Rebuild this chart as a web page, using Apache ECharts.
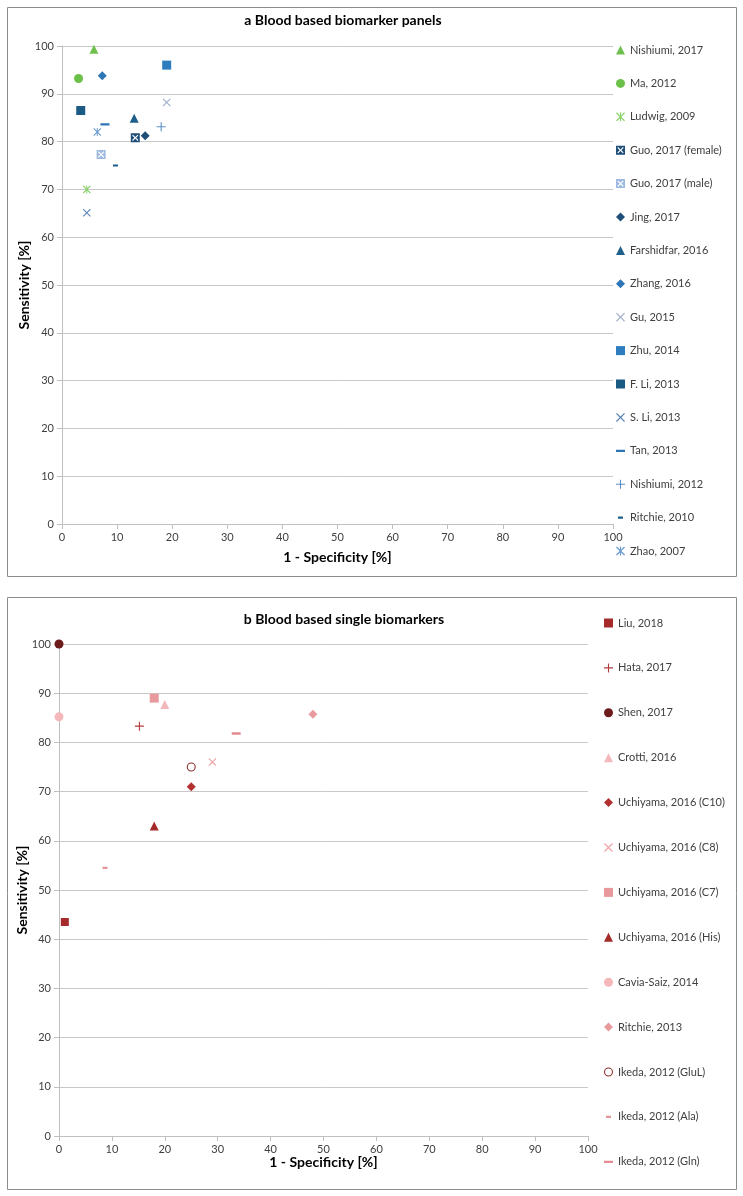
<!DOCTYPE html>
<html>
<head>
<meta charset="utf-8">
<script src="https://cdn.jsdelivr.net/npm/echarts@6/dist/echarts.min.js"></script>
<style>
html,body{margin:0;padding:0;background:#fff;}
#chart{width:743px;height:1196px;}
</style>
</head>
<body>
<div id="chart"></div>
<script>
// ---------- DATA ----------
const panelNames = ["Nishiumi, 2017","Ma, 2012","Ludwig, 2009","Guo, 2017 (female)","Guo, 2017 (male)","Jing, 2017","Farshidfar, 2016","Zhang, 2016","Gu, 2015","Zhu, 2014","F. Li, 2013","S. Li, 2013","Tan, 2013","Nishiumi, 2012","Ritchie, 2010","Zhao, 2007"];
const panelFpr  = [5.8, 3.0, 4.5, 13.3, 7.1, 15.1, 13.1, 7.3, 19.0, 19.0, 3.4, 4.5, 7.8, 18.0, 9.7, 6.4];
const panelSens = [99.3, 93.2, 70.0, 80.8, 77.3, 81.2, 84.9, 93.8, 88.2, 96.0, 86.5, 65.1, 83.6, 83.1, 75.0, 82.0];

const singleNames = ["Liu, 2018","Hata, 2017","Shen, 2017","Crotti, 2016","Uchiyama, 2016 (C10)","Uchiyama, 2016 (C8)","Uchiyama, 2016 (C7)","Uchiyama, 2016 (His)","Cavia-Saiz, 2014","Ritchie, 2013","Ikeda, 2012 (GluL)","Ikeda, 2012 (Ala)","Ikeda, 2012 (Gln)"];
const singleFpr  = [1.1, 15.2, 0, 20.0, 25.0, 29.0, 18.0, 18.0, 0, 48.0, 25.0, 8.7, 33.5];
const singleSens = [43.5, 83.3, 100, 87.7, 71.0, 76.0, 89.0, 63.0, 85.2, 85.7, 75.0, 54.5, 81.8];

const axisTicks = [0,10,20,30,40,50,60,70,80,90,100];
const titleA = "a Blood based biomarker panels";
const titleB = "b Blood based single biomarkers";
const xName = "1 - Specificity [%]";
const yName = "Sensitivity [%]";

// ---------- SYMBOLS / STYLES ----------
const XP = 'M0,1L1,0L5,4L9,0L10,1L6,5L10,9L9,10L5,6L1,10L0,9L4,5Z';
const SYM = {
  x: 'path://' + XP,
  plus: 'path://M4.4,0H5.6V4.4H10V5.6H5.6V10H4.4V5.6H0V4.4H4.4Z',
  star: 'path://' + XP + ' M4.4,0H5.6V10H4.4Z',
  dash: 'path://M0,3.7H10V6.3H0Z M5,0L5,0Z M5,10L5,10Z',
  sdash: 'path://M2.2,3.8H7.8V6.2H2.2Z M0,0L0,0Z M10,10L10,10Z',
  boxX: 'path://M0,0H10V10H0Z M1.5,2.4L4.1,5L1.5,7.6L2.4,8.5L5,5.9L7.6,8.5L8.5,7.6L5.9,5L8.5,2.4L7.6,1.5L5,4.1L2.4,1.5Z',
  ring: 'path://M5,0A5,5,0,1,1,5,10A5,5,0,1,1,5,0Z M5,1.2A3.8,3.8,0,1,0,5,8.8A3.8,3.8,0,1,0,5,1.2Z'
};
const panelStyle = [
  ['triangle','#70C050',9],['circle','#6CC04A',9],[SYM.star,'#8AD36A',8],[SYM.boxX,'#1F4E79',9],
  [SYM.boxX,'#9DB9DF',9],['diamond','#1F4E79',9],['triangle','#1F5F8B',9],['diamond','#2E75B6',9],
  [SYM.x,'#A5B3CA',8],['rect','#2E7DBE',9],['rect','#1B5A84',9],[SYM.x,'#5A86B8',8],
  [SYM.dash,'#2E75B6',9],[SYM.plus,'#5B8EC4',9],[SYM.sdash,'#1F5F8B',9],[SYM.star,'#6C9BD2',8]
];
const singleStyle = [
  ['rect','#A52A2A',8],[SYM.plus,'#B53A3A',9],['circle','#6E1B1B',9],['triangle','#F2B8BC',9],
  ['diamond','#B2302F',9],[SYM.x,'#F0A5A8',8],['rect','#E8999C',9],['triangle','#A52A2A',9],
  ['circle','#F4B8BA',9],['diamond','#E89A9C',9],[SYM.ring,'#8B2F2F',9],[SYM.sdash,'#E8959A',9],
  [SYM.dash,'#E48C92',9]
];

const FONT = 'Lato';
const labelColor = '#404040';

function makeSeries(names, xs, ys, styles, idx) {
  return names.map((n, i) => ({
    name: n,
    type: 'scatter',
    xAxisIndex: idx, yAxisIndex: idx,
    symbol: styles[i][0],
    symbolSize: styles[i][2],
    symbolKeepAspect: true,
    itemStyle: { color: styles[i][1], opacity: 1 },
    emphasis: { disabled: true },
    data: [[xs[i], ys[i]]]
  }));
}

function axisX(gridIndex, gap) {
  return {
    type: 'value', gridIndex, min: 0, max: 100, interval: 10,
    name: xName, nameLocation: 'middle', nameGap: gap,
    nameTextStyle: { fontFamily: FONT, fontSize: 14, fontWeight: 'bold', color: '#000' },
    axisLine: { show: true, lineStyle: { color: '#BFBFBF' } },
    axisTick: { show: true, length: 5, lineStyle: { color: '#BFBFBF' } },
    axisLabel: { fontFamily: FONT, fontSize: 11, color: labelColor, margin: 8,
      formatter: v => axisTicks.includes(v) ? String(v) : '' },
    splitLine: { show: false }
  };
}
function axisY(gridIndex, gap) {
  return {
    type: 'value', gridIndex, min: 0, max: 100, interval: 10,
    name: yName, nameLocation: 'middle', nameGap: gap, nameMoveOverlap: false,
    nameTextStyle: { fontFamily: FONT, fontSize: 14, fontWeight: 'bold', color: '#000' },
    axisLine: { show: true, lineStyle: { color: '#BFBFBF' } },
    axisTick: { show: true, length: 5, lineStyle: { color: '#BFBFBF' } },
    axisLabel: { fontFamily: FONT, fontSize: 11, color: labelColor, margin: 8 },
    splitLine: { show: true, lineStyle: { color: '#C8C8C8' } }
  };
}

const chart = echarts.init(document.getElementById('chart'), null, { renderer: 'canvas' });
chart.setOption({
  backgroundColor: '#fff',
  animation: false,
  title: [
    { text: titleA, left: 338, top: 8, textAlign: 'center',
      textStyle: { fontFamily: FONT, fontSize: 14, fontWeight: 'bold', color: '#000' } },
    { text: titleB, left: 339, top: 607, textAlign: 'center',
      textStyle: { fontFamily: FONT, fontSize: 14, fontWeight: 'bold', color: '#000' } }
  ],
  graphic: [
    { type: 'rect', silent: true, z: -10, shape: { x: 7.5, y: 7.5, width: 729, height: 569 },
      style: { fill: 'none', stroke: '#8C8C8C', lineWidth: 1 } },
    { type: 'rect', silent: true, z: -10, shape: { x: 7.5, y: 597.5, width: 729, height: 592 },
      style: { fill: 'none', stroke: '#8C8C8C', lineWidth: 1 } }
  ],
  grid: [
    { left: 62, right: 130, top: 46, bottom: 672 },
    { left: 59, right: 155, top: 644, bottom: 60 }
  ],
  xAxis: [axisX(0, 26), axisX(1, 17)],
  yAxis: [axisY(0, 31), axisY(1, 30)],
  legend: [
    { orient: 'vertical', left: 616, top: 44.5, itemWidth: 9, itemHeight: 9, itemGap: 22.4,
      data: panelNames, selectedMode: false, padding: 0,
      textStyle: { fontFamily: FONT, fontSize: 11, color: labelColor, lineHeight: 9 } },
    { orient: 'vertical', left: 604, top: 617.5, itemWidth: 9, itemHeight: 9, itemGap: 33.9,
      data: singleNames, selectedMode: false, padding: 0,
      textStyle: { fontFamily: FONT, fontSize: 11, color: labelColor, lineHeight: 9 } }
  ],
  series: [
    ...makeSeries(panelNames, panelFpr, panelSens, panelStyle, 0),
    ...makeSeries(singleNames, singleFpr, singleSens, singleStyle, 1)
  ]
});
</script>
</body>
</html>
